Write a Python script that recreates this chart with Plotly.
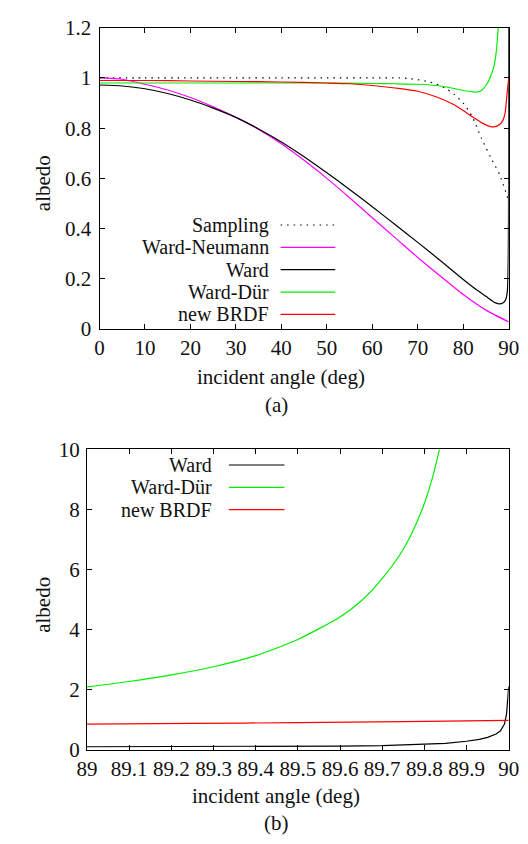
import plotly.graph_objects as go

W, H = 528, 844
FONT = "Liberation Serif, Times New Roman, Times, serif"
FS = 21
LFS = 20

# ---------------- data: panel (a) ----------------
samp_x = [0, 10, 20, 30, 40, 50, 60, 66, 68, 70, 72, 74, 76, 78, 80, 82, 84, 86, 88, 90]
samp_y = [1.0, 1.0, 1.0, 1.0, 1.0, 1.0, 1.0, 1.0, 0.998, 0.993, 0.987, 0.976, 0.96, 0.935, 0.9, 0.845, 0.76, 0.685, 0.615, 0.51]

neu_x = [0, 5, 10, 15, 20, 25, 30, 35, 40, 45, 50, 55, 60, 65, 70, 75, 80, 85, 90]
neu_y = [1.0, 0.995, 0.975, 0.952, 0.922, 0.885, 0.843, 0.795, 0.738, 0.672, 0.6, 0.523, 0.443, 0.364, 0.285, 0.21, 0.137, 0.075, 0.028]

ward_x = [0, 5, 10, 15, 20, 25, 30, 35, 40, 45, 50, 55, 60, 65, 70, 75, 80, 83, 85, 87, 88, 88.7, 89.3, 89.7, 89.9, 89.97, 90]
ward_y = [0.972, 0.968, 0.957, 0.938, 0.912, 0.88, 0.843, 0.797, 0.745, 0.686, 0.622, 0.556, 0.487, 0.416, 0.345, 0.272, 0.197, 0.155, 0.13, 0.105, 0.1, 0.103, 0.115, 0.15, 0.29, 0.55, 2.0]

dur_x = [0, 10, 20, 30, 40, 50, 60, 65, 70, 74, 76, 78, 80, 82, 83, 84, 85, 86, 86.8, 87.3, 87.7, 88]
dur_y = [0.98, 0.98, 0.98, 0.98, 0.98, 0.98, 0.978, 0.977, 0.975, 0.97, 0.965, 0.958, 0.95, 0.945, 0.944, 0.95, 0.97, 1.005, 1.05, 1.11, 1.2, 1.27]

new_x = [0, 10, 20, 30, 40, 50, 55, 60, 65, 70, 74, 78, 80, 82, 84, 86, 87, 88, 88.7, 89.2, 89.6, 90]
new_y = [0.99, 0.99, 0.988, 0.986, 0.984, 0.98, 0.977, 0.97, 0.96, 0.947, 0.925, 0.893, 0.87, 0.845, 0.822, 0.806, 0.806, 0.815, 0.83, 0.86, 0.93, 1.0]

# ---------------- data: panel (b) ----------------
bward_x = [89, 89.2, 89.4, 89.5, 89.6, 89.7, 89.8, 89.85, 89.9, 89.93, 89.95, 89.97, 89.98, 89.99, 89.995, 90]
bward_y = [0.097, 0.1, 0.107, 0.112, 0.12, 0.135, 0.175, 0.21, 0.28, 0.34, 0.41, 0.52, 0.62, 0.85, 1.2, 2.1]

bdur_x = [89, 89.1, 89.2, 89.3, 89.4, 89.5, 89.6, 89.65, 89.7, 89.74, 89.77, 89.8, 89.82, 89.84]
bdur_y = [2.09, 2.27, 2.49, 2.76, 3.13, 3.67, 4.42, 4.95, 5.7, 6.45, 7.2, 8.2, 9.1, 10.25]

bnew_x = [89, 89.25, 89.5, 89.75, 90]
bnew_y = [0.848, 0.872, 0.9, 0.935, 0.978]

# ticks
a_xticks = [0, 10, 20, 30, 40, 50, 60, 70, 80, 90]
a_yticks = [0, 0.2, 0.4, 0.6, 0.8, 1.0, 1.2]
a_ytext = ["0", "0.2", "0.4", "0.6", "0.8", "1", "1.2"]
b_xticks = [89, 89.1, 89.2, 89.3, 89.4, 89.5, 89.6, 89.7, 89.8, 89.9, 90]
b_xtext = ["89", "89.1", "89.2", "89.3", "89.4", "89.5", "89.6", "89.7", "89.8", "89.9", "90"]
b_yticks = [0, 2, 4, 6, 8, 10]

# colors
C_BLACK = "#000000"
C_MAG = "#ff00ff"
C_GREEN = "#00ee00"
C_RED = "#ff0000"
C_TEXT = "#111111"


def px(x):
    return x / W


def py(y):
    return 1 - y / H


fig = go.Figure()
LW = 1.2

def add(x, y, color, xa, ya, dash=None, shape="spline"):
    line = dict(color=color, width=LW, shape=shape)
    if shape == "spline":
        line["smoothing"] = 0.6
    if dash:
        line["dash"] = dash
    fig.add_trace(go.Scatter(x=x, y=y, mode="lines", line=line, xaxis=xa, yaxis=ya,
                             showlegend=False, hoverinfo="skip"))

add(samp_x, samp_y, C_BLACK, "x", "y", dash="1.5px,5px")
add(neu_x, neu_y, C_MAG, "x", "y")
add(ward_x, ward_y, C_BLACK, "x", "y")
add(dur_x, dur_y, C_GREEN, "x", "y")
add(new_x, new_y, C_RED, "x", "y")

add(bward_x, bward_y, C_BLACK, "x2", "y2", shape="linear")
add(bdur_x, bdur_y, C_GREEN, "x2", "y2")
add(bnew_x, bnew_y, C_RED, "x2", "y2")

# plot area pixel boxes
A = dict(l=84, r=511, t=8, b=318)
B = dict(l=71, r=511, t=442, b=751)

axis_common = dict(
    showline=True, linecolor="black", linewidth=1, mirror="ticks",
    ticks="inside", ticklen=5, tickcolor="black", tickwidth=1,
    showgrid=False, zeroline=False,
    tickfont=dict(family=FONT, size=FS, color=C_TEXT),
    fixedrange=True,
)

fig.update_layout(
    width=W, height=H,
    margin=dict(l=0, r=0, t=0, b=0),
    paper_bgcolor="white", plot_bgcolor="white",
    showlegend=False,
    font=dict(family=FONT, size=FS, color=C_TEXT),
    xaxis=dict(domain=[px(A["l"]), px(A["r"])], range=[0, 90], tickmode="array",
               tickvals=a_xticks, anchor="y", **axis_common),
    yaxis=dict(domain=[py(A["b"]), py(A["t"])], range=[0, 1.2], tickmode="array",
               tickvals=a_yticks, ticktext=a_ytext, anchor="x", ticklabelstandoff=3, **axis_common),
    xaxis2=dict(domain=[px(B["l"]), px(B["r"])], range=[89, 90], tickmode="array",
                tickvals=b_xticks, ticktext=b_xtext, anchor="y2", **axis_common),
    yaxis2=dict(domain=[py(B["b"]), py(B["t"])], range=[0, 10], tickmode="array",
                tickvals=b_yticks, anchor="x2", ticklabelstandoff=2, **axis_common),
)

ann = []
shapes = []


def text(x, y, s, xanchor="center", angle=0, size=FS):
    ann.append(dict(x=px(x), y=py(y), xref="paper", yref="paper", text=s, showarrow=False,
                    xanchor=xanchor, yanchor="middle",
                    font=dict(family=FONT, size=size, color=C_TEXT), textangle=angle))


def sample(x0, x1, y, color, dash=None):
    line = dict(color=color, width=LW)
    if dash:
        line["dash"] = dash
    shapes.append(dict(type="line", xref="paper", yref="paper", x0=px(x0), x1=px(x1),
                       y0=py(y), y1=py(y), line=line))

# legend (a)
leg_a = [("Sampling", C_BLACK, "1.5px,5px"), ("Ward-Neumann", C_MAG, None), ("Ward", C_BLACK, None),
         ("Ward-Dür", C_GREEN, None), ("new BRDF", C_RED, None)]
rows_a = [211, 234, 257, 280, 303]
for (name, col, d), yy in zip(leg_a, rows_a):
    text(263, yy, name, xanchor="right", size=LFS)
    sample(273, 330, yy, col, d)

# legend (b)
leg_b = [("Ward", C_BLACK), ("Ward-Dür", C_GREEN), ("new BRDF", C_RED)]
rows_b = [458, 481, 504]
for (name, col), yy in zip(leg_b, rows_b):
    text(203, yy, name, xanchor="right", size=LFS)
    sample(219, 277, yy, col)

# axis titles and captions
text(25, 168, "albedo", angle=-90)
text(273, 367, "incident angle (deg)")
text(269, 396, "(a)")
text(25, 602, "albedo", angle=-90)
text(268, 799, "incident angle (deg)")
text(269, 827, "(b)")

fig.update_layout(annotations=ann, shapes=shapes)

fig.write_html("out.html")
